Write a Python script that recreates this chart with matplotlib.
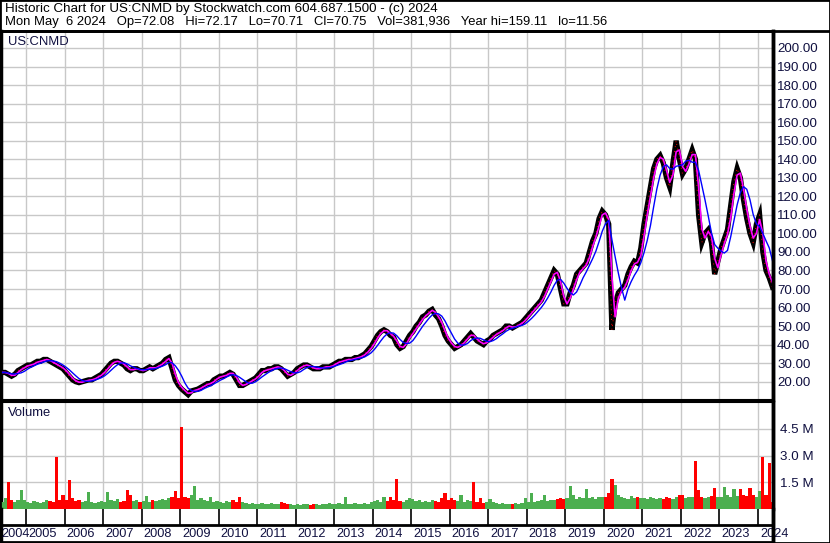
import matplotlib
matplotlib.use("Agg")
import matplotlib.pyplot as plt
import numpy as np
import pandas as pd
from matplotlib.lines import Line2D
from matplotlib.patches import Rectangle

plt.rcParams['font.family'] = ['Liberation Sans', 'DejaVu Sans']

# ---------------- data (monthly, May 2004 .. May 2024) ----------------
start_year = 2004
start_month = 5
closes = [
    25, 25, 24, 23, 24, 26, 27, 28,                                   # 2004 May-Dec
    29, 29, 30, 31, 31, 32, 32, 31, 30, 29, 28, 27,                   # 2005
    25, 23, 21, 20, 19.5, 20, 20.5, 21, 21, 22, 23, 24,               # 2006
    26, 28, 30, 31, 31, 30, 29, 27, 26, 27, 27, 26,                   # 2007
    26, 27, 28, 27, 28, 29, 30, 32, 33, 27, 21, 18,                   # 2008
    16, 14.5, 13, 15, 15.5, 16, 17, 18, 19, 19, 21, 22,               # 2009
    23, 23, 24, 25, 24, 21, 18, 18, 19, 20, 21, 22,                   # 2010
    24, 26, 26, 27, 27, 28, 28, 27, 25, 23, 24, 25,                   # 2011
    27, 28, 29, 29, 28, 27, 27, 27, 28, 28, 28, 29,                   # 2012
    30, 31, 31, 32, 32, 32, 33, 33, 34, 35, 37, 39,                   # 2013
    42, 45, 47, 48, 47, 45, 44, 40, 38, 39, 42, 45,                   # 2014
    47, 50, 52, 55, 56, 58, 59, 56, 54, 50, 45, 42,                   # 2015
    40, 38, 39, 40, 42, 44, 46, 44, 42, 41, 40, 42,                   # 2016
    43, 45, 46, 47, 48, 50, 50, 49, 50, 51, 52, 54,                   # 2017
    56, 58, 60, 62, 64, 68, 72, 76, 80, 78, 70, 62,                   # 2018
    62, 68, 72, 78, 80, 82, 84, 90, 96, 100, 108, 112,                # 2019
    110, 105, 48, 62, 68, 70, 72, 78, 82, 85, 84, 92,                 # 2020
    105, 115, 125, 135, 140, 142, 138, 130, 125, 138, 150, 140,       # 2021
    132, 135, 140, 145, 140, 110, 95, 100, 102, 95, 78, 85,           # 2022
    92, 97, 102, 115, 128, 135, 130, 118, 108, 100, 95, 105,          # 2023
    110, 90, 80, 76, 71,                                              # 2024 Jan-May
]
volume_m = [
    0.4, 0.6, 1.5, 0.5, 0.4, 0.5, 1.05, 0.5,
    0.4, 0.35, 0.45, 0.4, 0.35, 0.4, 0.5, 0.45, 0.4, 2.9, 0.5, 0.8,
    0.5, 1.65, 0.6, 0.45, 0.5, 0.4, 0.45, 0.95, 0.4, 0.35, 0.4, 0.45,
    0.4, 0.95, 0.5, 0.45, 0.55, 0.4, 0.45, 1.05, 0.8, 0.45, 0.5, 0.4,
    0.45, 0.75, 0.4, 0.5, 0.45, 0.5, 0.55, 0.5, 0.6, 0.7, 1.0, 0.6,
    4.6, 0.7, 0.6, 0.8, 1.3, 0.5, 0.6, 0.5, 0.45, 0.65, 0.4, 0.45,
    0.4, 0.35, 0.45, 0.4, 0.5, 0.4, 0.65, 0.4, 0.35, 0.3, 0.35, 0.3,
    0.3, 0.35, 0.3, 0.3, 0.35, 0.3, 0.3, 0.4, 0.35, 0.3, 0.3, 0.25,
    0.3, 0.25, 0.3, 0.3, 0.25, 0.3, 0.3, 0.25, 0.3, 0.3, 0.35, 0.3,
    0.3, 0.35, 0.3, 0.65, 0.3, 0.3, 0.35, 0.3, 0.3, 0.35, 0.3, 0.4,
    0.45, 0.5, 0.4, 0.7, 0.45, 0.7, 0.5, 1.7, 0.45, 0.4, 0.5, 0.6,
    0.55, 0.45, 0.5, 0.4, 0.45, 0.4, 0.5, 0.45, 0.4, 0.6, 0.9, 0.5,
    0.6, 0.5, 0.45, 0.8, 0.4, 0.5, 0.45, 1.5, 0.4, 0.6, 0.35, 0.4,
    0.55, 0.4, 0.35, 0.3, 0.35, 0.3, 0.3, 0.3, 0.35, 0.3, 0.35, 0.6,
    0.4, 0.9, 0.4, 0.45, 0.5, 0.8, 0.45, 0.5, 0.5, 0.55, 0.6, 0.55,
    0.6, 1.3, 0.8, 0.55, 0.7, 0.6, 1.1, 0.6, 0.7, 0.55, 0.65, 0.7,
    0.7, 0.9, 1.7, 1.35, 0.8, 0.7, 0.6, 0.55, 0.75, 0.6, 0.65, 0.6,
    0.6, 0.55, 0.7, 0.6, 0.55, 0.6, 0.55, 0.7, 0.6, 0.55, 0.65, 0.8,
    0.8, 0.6, 0.65, 0.7, 2.7, 1.05, 0.7, 0.6, 0.7, 0.75, 1.2, 0.7,
    0.7, 1.25, 0.8, 0.7, 1.1, 0.75, 1.1, 0.8, 0.75, 1.2, 0.8, 0.7,
    1.0, 2.9, 0.8, 2.6, 0.38,
]
price_ticks = list(range(20, 201, 10))
volume_ticks = [1.5e6, 3.0e6, 4.5e6]
volume_tick_labels = ["1.5 M", "3.0 M", "4.5 M"]
years = list(range(2004, 2025))
header1 = "Historic Chart for US:CNMD by Stockwatch.com 604.687.1500 - (c) 2024"
header2 = ("Mon May  6 2024   Op=72.08   Hi=72.17   Lo=70.71   Cl=70.75   "
           "Vol=381,936   Year hi=159.11   lo=11.56")
symbol = "US:CNMD"

# ---------------- derived ----------------
n = len(closes)
t = np.array([start_year + (start_month - 1 + i + 0.5) / 12 for i in range(n)])
s = pd.Series(closes, dtype=float)
ma_fast = s.rolling(2, min_periods=1).mean()
ma_slow = s.rolling(5, min_periods=1).mean()
vol = np.array(volume_m) * 1e6
up = np.r_[True, np.diff(s.values) >= 0]
vcol = np.where(up, "#4caf50", "#ff0000")

# ---------------- layout (pixels) ----------------
W, H = 830, 543
fig = plt.figure(figsize=(W / 100, H / 100), dpi=100)
fig.patch.set_facecolor("white")

def fx(px):
    return px / W

def fy(py):
    return 1 - py / H

xl, xr = 1, 773
px_per_year = 38.53
x0_val = 2005 - (26 - xl) / px_per_year
x1_val = 2024 + (xr - 758) / px_per_year
grid_c = "#c8c8c8"
boundaries = list(range(2005, 2025))
label_c = "#101040"

ax = fig.add_axes([fx(xl), fy(400), fx(xr - xl), (400 - 31) / H])
axv = fig.add_axes([fx(xl), fy(509), fx(xr - xl), (509 - 402) / H])
axd = fig.add_axes([fx(xl), fy(542), fx(xr - xl), (542 - 509) / H])

# price panel
ax.set_xlim(x0_val, x1_val)
ax.set_ylim(200 - (400 - 48) / 1.854, 200 + (48 - 31) / 1.854)
ax.set_yticks(price_ticks)
ax.set_yticklabels([f"{v:.2f}" for v in price_ticks])
ax.set_xticks(boundaries)
ax.grid(True, color=grid_c, lw=1)
ax.set_axisbelow(True)
ax.yaxis.tick_right()
ax.tick_params(axis="y", length=0, pad=3, labelsize=9.6, labelcolor=label_c)
ax.tick_params(axis="x", length=0, labelbottom=False)
ax.plot(t, s.values, color="black", lw=3.8, solid_joinstyle="miter", zorder=3)
ax.plot(t, s.values, color="#ff0000", lw=0.7, ls=(0, (1, 4)), zorder=3.5)
ax.plot(t, ma_fast.values, color="#ff00ff", lw=1.2, zorder=4)
ax.plot(t, ma_slow.values, color="#0000ff", lw=1.0, zorder=5)
ax.text(7 / (xr - xl), 1 - (42 - 31) / (400 - 31), symbol, transform=ax.transAxes,
        fontsize=9.4, va="center", ha="left", color=label_c)
for sp in ["left", "right"]:
    ax.spines[sp].set_linewidth(2.5)
ax.spines["top"].set_linewidth(2)
ax.spines["bottom"].set_linewidth(1.5)

# volume panel
axv.set_xlim(x0_val, x1_val)
axv.set_ylim(0, 6.0e6)
axv.bar(t, vol, width=1 / 12, color=vcol, edgecolor="none", align="center", zorder=3)
axv.set_yticks(volume_ticks)
axv.set_yticklabels(volume_tick_labels)
axv.set_xticks(boundaries)
axv.grid(True, color=grid_c, lw=1)
axv.set_axisbelow(True)
axv.yaxis.tick_right()
axv.tick_params(axis="y", length=0, pad=5, labelsize=9.6, labelcolor=label_c)
axv.tick_params(axis="x", length=0, labelbottom=False)
axv.text(7 / (xr - xl), 1 - (413 - 402) / (509 - 402), "Volume", transform=axv.transAxes,
         fontsize=9.4, va="center", ha="left", color=label_c)
for sp in ["left", "right"]:
    axv.spines[sp].set_linewidth(2.5)
axv.spines["top"].set_linewidth(1.5)
axv.spines["bottom"].set_linewidth(2)

# date panel
axd.set_xlim(x0_val, x1_val)
axd.set_ylim(0, 1)
axd.set_xticks([])
axd.set_yticks([])
mid = (542 - 525) / (542 - 509)
axd.axhline(mid, color="black", lw=2)
for b in boundaries:
    axd.plot([b, b], [mid, 1], color="black", lw=1.2)
for y in years:
    xpos = y + 2 / px_per_year if y > 2004 else x0_val + 0.5 / px_per_year
    axd.text(xpos, (542 - 534) / (542 - 509), str(y), fontsize=9.2, ha="left",
             va="center", color=label_c, clip_on=False)
for sp in ["left", "right"]:
    axd.spines[sp].set_linewidth(2.5)
axd.spines["top"].set_visible(False)
axd.spines["bottom"].set_linewidth(2)

# header
fig.text(fx(5), fy(9), header1, fontsize=9.6, va="center", ha="left")
fig.text(fx(5), fy(22), header2, fontsize=9.35, va="center", ha="left")
fig.add_artist(Line2D([0, 1], [fy(31), fy(31)], color="black", lw=2,
                      transform=fig.transFigure))
fig.add_artist(Line2D([fx(xr), fx(xr)], [fy(31), 0], color="black", lw=2.5,
                      transform=fig.transFigure))
fig.add_artist(Rectangle((0, 0), 1, 1, fill=False, edgecolor="black", lw=2,
                         transform=fig.transFigure))

fig.savefig("out.png", dpi=100)
